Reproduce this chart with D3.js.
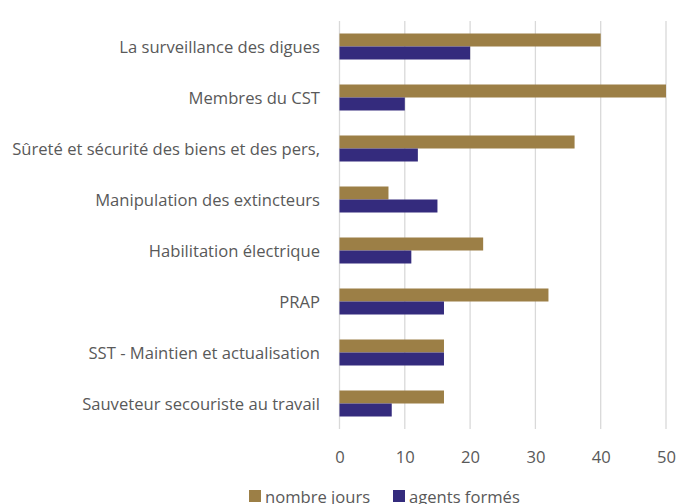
<!DOCTYPE html>
<html><head><meta charset="utf-8">
<script src="https://cdn.jsdelivr.net/npm/d3@7"></script>
<style>body{margin:0;background:#fff;} svg{display:block;}</style>
</head><body>
<svg id="c" width="678" height="504"></svg>
<script>
const categories = ["La surveillance des digues","Membres du CST","Sûreté et sécurité des biens et des pers,","Manipulation des extincteurs","Habilitation électrique","PRAP","SST - Maintien et actualisation","Sauveteur secouriste au travail"];
const seriesNames = ["nombre jours","agents formés"];
const nombreJours = [40,50,36,7.5,22,32,16,16];
const agentsFormes = [20,10,12,15,11,16,16,8];
const xTicks = [0,10,20,30,40,50];
const colors = ["#9C7F46","#342B7D"];

const svg = d3.select("#c");
const font = "'Open Sans', sans-serif";
const fs = 16.6;
const x = d3.scaleLinear().domain([0,50]).range([339.5,666]);
const y = d3.scaleBand().domain(categories).range([21,429]).paddingInner(0).paddingOuter(0);
const sub = d3.scaleBand().domain(seriesNames).range([0, 26]);
const groupOffset = (y.bandwidth()-26)/2;

// gridlines
svg.append("g").selectAll("line").data(xTicks).join("line")
  .attr("x1",d=>x(d)).attr("x2",d=>x(d)).attr("y1",21).attr("y2",429)
  .attr("stroke","#D9D9D9").attr("stroke-width",1.3);

const data = [nombreJours, agentsFormes];
data.forEach((vals,si)=>{
  svg.append("g").selectAll("rect").data(vals).join("rect")
    .attr("x",x(0))
    .attr("y",(d,i)=>y(categories[i])+groupOffset+sub(seriesNames[si]))
    .attr("width",d=>x(d)-x(0))
    .attr("height",sub.bandwidth())
    .attr("fill",colors[si]);
});

// category labels
svg.append("g").selectAll("text").data(categories).join("text")
  .attr("x",320).attr("y",d=>y(d)+y.bandwidth()/2)
  .attr("text-anchor","end").attr("dominant-baseline","central")
  .attr("font-family",font).attr("font-size",fs).attr("fill","#595959")
  .text(d=>d);

// x tick labels
const xAxis = d3.axisBottom(x).tickValues(xTicks).tickSize(0).tickPadding(0);
const gx = svg.append("g").attr("transform","translate(0,456)").call(xAxis);
gx.select(".domain").remove();
gx.selectAll("text").attr("font-family",font).attr("font-size",fs).attr("fill","#595959")
  .attr("dy",null).attr("y",0).attr("dominant-baseline","central");

// legend
const legendItems = [{n:seriesNames[0],c:colors[0],x:249},{n:seriesNames[1],c:colors[1],x:393}];
const lg = svg.append("g");
legendItems.forEach(it=>{
  lg.append("rect").attr("x",it.x).attr("y",490).attr("width",12).attr("height",12).attr("fill",it.c);
  lg.append("text").attr("x",it.x+16).attr("y",496).attr("dominant-baseline","central")
    .attr("font-family",font).attr("font-size",fs).attr("fill","#595959").text(it.n);
});
</script>
</body></html>
